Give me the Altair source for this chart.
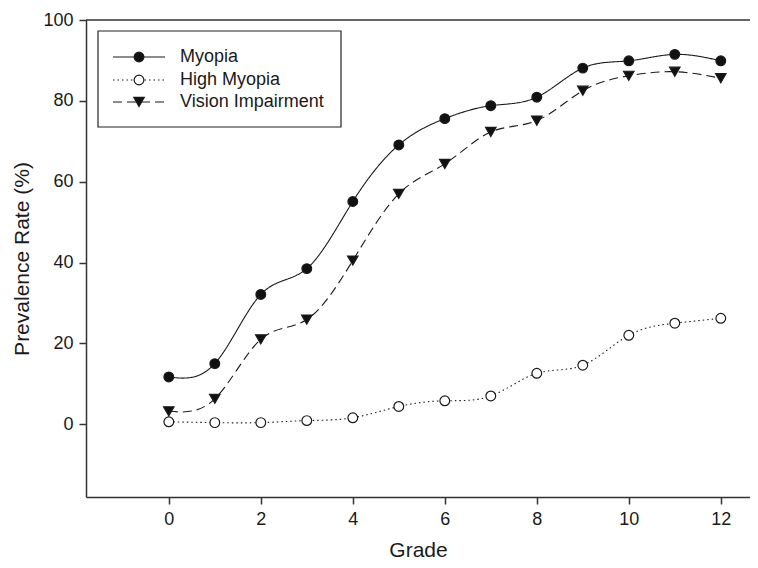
import altair as alt
import pandas as pd

grades = list(range(13))
series_names = ["Myopia", "High Myopia", "Vision Impairment"]
myopia = [11.7, 15.0, 32.1, 38.5, 55.1, 69.1, 75.6, 78.8, 80.9, 88.1, 89.9, 91.5, 89.9]
high_myopia = [0.6, 0.4, 0.4, 0.9, 1.6, 4.4, 5.8, 7.0, 12.6, 14.6, 22.0, 25.0, 26.2]
vision_impairment = [3.2, 6.3, 21.0, 25.9, 40.5, 57.0, 64.4, 72.3, 75.1, 82.5, 86.2, 87.2, 85.6]
series_values = [myopia, high_myopia, vision_impairment]

x_ticks = [0, 2, 4, 6, 8, 10, 12]
y_ticks = [0, 20, 40, 60, 80, 100]

# styles
dashes = [[1, 0], [1.5, 3], [9, 5]]
shapes = ["circle", "circle", "triangle-down"]
fills = ["#111111", "white", "#111111"]
legend_rows = [37, 60, 82]

W, H = 664, 477
FONT = "Liberation Sans"
INK = "#1a1a1a"

xs = alt.Scale(domain=[-1.8, 12.635], nice=False, zero=False)
ys = alt.Scale(domain=[-18, 100], nice=False, zero=False)
xaxis = alt.Axis(values=x_ticks, title="Grade", grid=False, format="d", titlePadding=11)
yaxis = alt.Axis(values=y_ticks, title="Prevalence Rate (%)", grid=False, format="d", titlePadding=10)

layers = []
one = pd.DataFrame({"k": [0]})
layers.append(
    alt.Chart(one).mark_rule(color="#333333", strokeWidth=1.5).encode(
        y=alt.datum(100, scale=ys), x=alt.value(0), x2=alt.value(W)
    )
)

for name, vals, dash, shp, fill in zip(series_names, series_values, dashes, shapes, fills):
    df = pd.DataFrame({"Grade": grades, "Rate": vals, "Series": name})
    x = alt.X("Grade:Q", scale=xs, axis=xaxis)
    y = alt.Y("Rate:Q", scale=ys, axis=yaxis)
    layers.append(
        alt.Chart(df).mark_line(interpolate="natural", strokeDash=dash, color=INK, strokeWidth=1.1).encode(x=x, y=y)
    )
for name, vals, dash, shp, fill in zip(series_names, series_values, dashes, shapes, fills):
    df = pd.DataFrame({"Grade": grades, "Rate": vals, "Series": name})
    x = alt.X("Grade:Q", scale=xs, axis=xaxis)
    y = alt.Y("Rate:Q", scale=ys, axis=yaxis)
    layers.append(
        alt.Chart(df).mark_point(shape=shp, filled=True, fill=fill, stroke=INK, strokeWidth=1.2,
                                 size=95 if shp == "circle" else 110, opacity=1).encode(x=x, y=y)
    )

# legend box
layers.append(
    alt.Chart(one).mark_rect(fill="white", stroke="#222222", strokeWidth=1.2).encode(
        x=alt.value(12), x2=alt.value(255), y=alt.value(11), y2=alt.value(107)
    )
)
for name, dash, shp, fill, ry in zip(series_names, dashes, shapes, fills, legend_rows):
    ldf = pd.DataFrame({"Series": [name]})
    layers.append(
        alt.Chart(ldf).mark_rule(strokeDash=dash, color=INK, strokeWidth=1.1).encode(
            x=alt.value(27), x2=alt.value(79), y=alt.value(ry)
        )
    )
    layers.append(
        alt.Chart(ldf).mark_point(shape=shp, filled=True, fill=fill, stroke=INK, strokeWidth=1.2,
                                  size=95 if shp == "circle" else 110, opacity=1).encode(
            x=alt.value(53), y=alt.value(ry)
        )
    )
    layers.append(
        alt.Chart(ldf).mark_text(align="left", baseline="middle", font=FONT, fontSize=18, color=INK).encode(
            x=alt.value(94), y=alt.value(ry), text="Series:N"
        )
    )

chart = alt.layer(*layers).properties(
    width=W,
    height=H,
    padding={"left": 78, "top": 12, "right": 0, "bottom": 63},
    autosize=alt.AutoSizeParams(type="none"),
).configure_view(stroke=None).configure_axis(
    domainColor="#333333",
    domainWidth=1.5,
    tickColor="#333333",
    tickWidth=1.5,
    tickSize=7,
    labelFont=FONT,
    labelFontSize=18,
    labelColor=INK,
    labelPadding=6,
    titleFont=FONT,
    titleFontSize=21,
    titleFontWeight="normal",
    titleColor=INK,
)

chart.save("out.html", embed_options={"renderer": "svg", "actions": False})
